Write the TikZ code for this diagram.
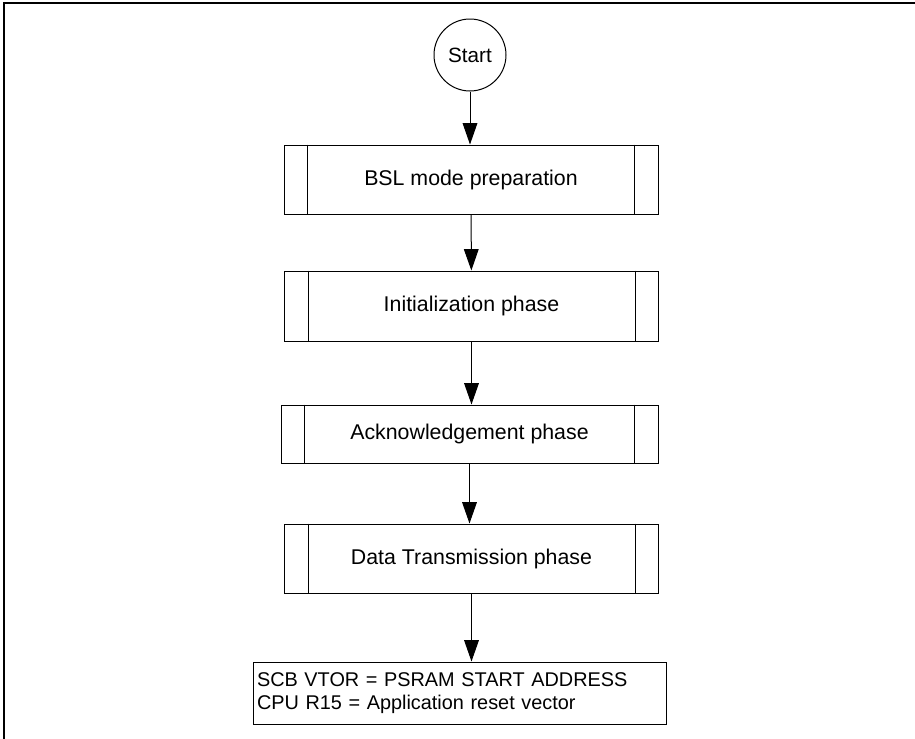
\documentclass[tikz,border=0pt]{standalone}
\usepackage{fontspec}
\setmainfont{Liberation Sans}
\usepackage{tikz}
\usetikzlibrary{arrows.meta}
\tikzset{
  every picture/.style={line join=miter, >={Triangle[length=16pt,width=11pt]}},
  proc/.style={draw, line width=0.75pt, inner sep=0pt, minimum width=280.5pt, font=\fontsize{16}{19}\selectfont},
  terminal/.style={draw, circle, line width=0.75pt, inner sep=0pt, minimum size=54pt},
  assign/.style={draw, line width=0.75pt, inner sep=3pt, text width=303.75pt, align=left, minimum height=46.5pt,
    font=\fontsize{14.9}{17}\selectfont},
  flow/.style={->, line width=0.75pt},
}

\begin{document}
\begin{tikzpicture}[x=0.75pt,y=-0.75pt,font=\fontsize{15.5}{17}\selectfont]
\useasboundingbox (0,0) rectangle (915,739);
% frame
\draw[line width=1.1pt] (4,739) -- (4,3) -- (915,3);
\node[terminal] (start) at (470,55) {Start};
\node[proc, minimum height=51.75pt] (bsl) at (471,179.5) {BSL mode preparation};
\node[proc, minimum height=52.5pt] (init) at (471.5,306) {Initialization phase};
\node[proc, minimum height=43.5pt, minimum width=282.75pt] (ack) at (469.5,434) {Acknowledgement phase};
\node[proc, minimum height=51.75pt] (data) at (471.5,558.5) {Data Transmission phase};
\node[assign] (reset) at (459.5,693) {SCB VTOR = PSRAM START ADDRESS\\CPU R15 = Application reset vector};
% side bars of the predefined process boxes
\foreach \n in {bsl,init,ack,data}{
  \draw[line width=0.75pt] ([xshift=18pt]\n.north west) -- ([xshift=18pt]\n.south west);
  \draw[line width=0.75pt] ([xshift=-18pt]\n.north east) -- ([xshift=-18pt]\n.south east);
}
\draw[flow] (start) -- (start |- bsl.north);
\draw[flow] (bsl) -- (init);
\draw[flow] (init.south) -- (init.south |- ack.north);
\draw[flow] (ack.south) -- (ack.south |- data.north);
\draw[flow] (data.south) -- (data.south |- reset.north);
\end{tikzpicture}
\end{document}
